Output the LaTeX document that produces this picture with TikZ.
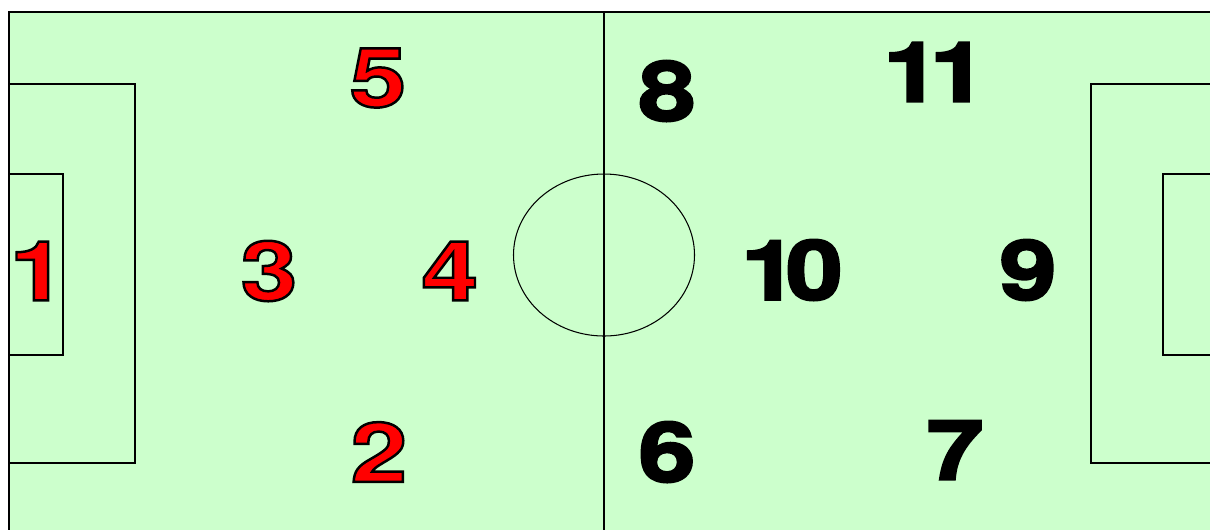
\documentclass[tikz,border=0pt]{standalone}
\usepackage{fontspec}
\newfontfamily\numfont{TeX Gyre Heros Bold}[FakeStretch=1.24,FakeBold=3]
\definecolor{pitch}{HTML}{CCFFCC}
\definecolor{numred}{HTML}{FF0000}
\newcommand\rimmed[1]{\special{pdf:literal direct 0 0 0 RG}#1}
\begin{document}
\begin{tikzpicture}[
  x=0.02cm, y=-0.02cm,
  pitchline/.style={draw=black, line width=0.6pt},
  num/.style={font=\numfont\fontsize{47}{47}\selectfont, inner sep=0pt},
  rednum/.style={num, text=numred},
  blacknum/.style={num, text=black}
]
\useasboundingbox (0,0) rectangle (1210,529);
\begin{scope}
\clip (0,0) rectangle (1210,529);
\draw[pitchline, fill=pitch] (9,12) rectangle (1240,560);
\draw[pitchline] (604,12) -- (604,560);
\draw[pitchline] (604,255) ellipse [x radius=90.5, y radius=81];
\draw[pitchline] (9,84) rectangle (135,463);
\draw[pitchline] (9,174) rectangle (63,355);
\draw[pitchline] (1091,84) rectangle (1240,463);
\draw[pitchline] (1163,174) rectangle (1240,355);
\end{scope}
% red side
\node[rednum] (n1) at (38,271) {\rimmed{1}};
\node[rednum] (n2) at (379,452) {\rimmed{2}};
\node[rednum] (n3) at (269,271) {\rimmed{3}};
\node[rednum] (n4) at (450,271) {\rimmed{4}};
\node[rednum] (n5) at (378,78) {\rimmed{5}};
% black side
\node[blacknum] (n6) at (667,452) {6};
\node[blacknum] (n7) at (955,450) {7};
\node[blacknum] (n8) at (667,91) {8};
\node[blacknum] (n9) at (1028,270) {9};
\node[blacknum] (n10) at (792,270) {1\kern-7pt 0};
\node[blacknum] (n11) at (935,72) {1\kern-6pt 1};
\end{tikzpicture}
\end{document}
